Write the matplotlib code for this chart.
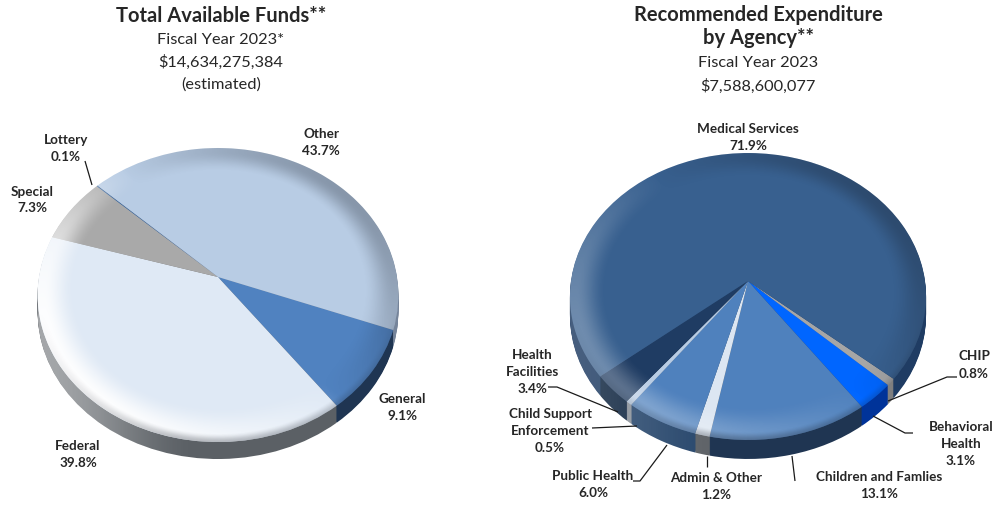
import numpy as np
import matplotlib
matplotlib.use('Agg')
import matplotlib.pyplot as plt
from matplotlib.transforms import Transform
from matplotlib.patches import Polygon

plt.rcParams['font.family'] = ['Lato', 'DejaVu Sans']

funds_names = ['General', 'Federal', 'Special', 'Lottery', 'Other']
funds_pct = [9.1, 39.8, 7.3, 0.1, 43.7]
funds_top = ['#5082c0', '#dfe9f5', '#a9a9a9', '#2f5f9a', '#b8cce4']
funds_wall = ['#1f3552', '#5b6065', '#6f6f6f', '#24466f', '#75849a']

agency_names = ['CHIP', 'Behavioral Health', 'Children and Famlies', 'Admin & Other',
                'Public Health', 'Child Support Enforcement', 'Health Facilities',
                'Medical Services']
agency_pct = [0.8, 3.1, 13.1, 1.2, 6.0, 0.5, 3.4, 71.9]
agency_top = ['#a6a6a6', '#0066ff', '#4f81bd', '#dce6f2', '#4f81bd', '#b8cce4', '#1f3c63', '#38608f']
agency_wall = ['#7f7f7f', '#003399', '#1f3552', '#5f6368', '#29486d', '#8a9199', '#0f2540', '#1f3c63']


class Tilt(Transform):
    # unit circle -> tilted disc in pixel coords, apex sits above the ellipse centre
    input_dims = 2
    output_dims = 2

    def __init__(self, cx, cy, r, s, p, drop=0):
        super().__init__()
        self.cx, self.cy, self.r, self.s, self.p, self.drop = cx, cy, r, s, p, drop

    def transform_non_affine(self, xy):
        xy = np.asarray(xy, dtype=float)
        w = 1 + self.p * xy[:, 1]
        return np.column_stack([self.cx + self.r * xy[:, 0] / w,
                                self.cy + self.drop - self.s * xy[:, 1] / w])


def smooth(a, b, v):
    t = np.clip((v - a) / (b - a), 0, 1)
    return t * t * (3 - 2 * t)


def overlay(ax, rgb, alpha, box, clip, z):
    img = np.zeros(alpha.shape + (4,))
    img[..., 0], img[..., 1], img[..., 2] = rgb
    img[..., 3] = alpha
    im = ax.imshow(img, extent=box, origin='upper', aspect='auto', interpolation='bilinear', zorder=z)
    im.set_clip_path(clip)
    return im


def disc(ax, pct, top, wall, start, cx, cy, r, s, p, depth, lit, wall_lit):
    # side wall, one pixel layer at a time
    for d in range(depth, 0, -1):
        wedges, _ = ax.pie(pct, colors=wall, startangle=start, counterclock=False, labeldistance=None)
        for w in wedges:
            w.set_transform(Tilt(cx, cy, r, s, p, d) + ax.transData)
            w.set_edgecolor('none')
            w.set_zorder(1)

    xs = np.arange(cx - r - 8, cx + r + 8)
    ys = np.arange(cy - s - 5, cy + s * 1.4 + depth)
    gx, gy = np.meshgrid(xs, ys)
    box = (xs[0] - 0.5, xs[-1] + 0.5, ys[-1] + 0.5, ys[0] - 0.5)

    # wall shade, lighter to the left
    a = np.linspace(0, 2 * np.pi, 361)
    edge = np.column_stack([np.cos(a), np.sin(a)])
    pts = Tilt(cx, cy, r, s, p).transform(edge)
    mid = pts[np.argmax(pts[:, 0]), 1]
    pts[:, 1] = np.where(pts[:, 1] > mid, pts[:, 1] + depth, pts[:, 1])
    hull = Polygon(pts, closed=True, transform=ax.transData, fc='none', ec='none')
    ax.add_patch(hull)
    shade = wall_lit * smooth(-0.1, -1.0, (gx - cx) / r)
    overlay(ax, (1, 1, 1), shade, box, hull, 1.5)

    wedges, _ = ax.pie(pct, colors=top, startangle=start, counterclock=False, labeldistance=None)
    for w in wedges:
        w.set_transform(Tilt(cx, cy, r, s, p) + ax.transData)
        w.set_edgecolor('none')
        w.set_zorder(2)

    # bevel on the top face
    Y = (cy - gy) / s
    uy = Y / (1 - p * Y)
    ww = 1 + p * uy
    ux = (gx - cx) * ww / r
    rad = np.hypot(ux, uy)
    rad_safe = np.maximum(rad, 1e-6)
    light = -(ux * 0.8 + uy * 0.6) / rad_safe
    band = smooth(0.8, 0.97, rad)
    outer = smooth(0.95, 1.0, rad)
    face = Polygon(Tilt(cx, cy, r, s, p).transform(edge), closed=True, transform=ax.transData,
                   fc='none', ec='none')
    ax.add_patch(face)
    overlay(ax, (1, 1, 1), lit * band * np.clip(light + 0.05, 0, 1), box, face, 3)
    dark = 0.3 * band * np.clip(-light, 0, 1) + 0.35 * outer * np.clip(-uy - 0.2, 0, 1) * np.clip(1.2 + ux, 0, 1)
    overlay(ax, (0.08, 0.1, 0.14), np.clip(dark, 0, 1), box, face, 3.1)


fig = plt.figure(figsize=(9.97, 5.06), dpi=100)
ax = fig.add_axes([0, 0, 1, 1])

disc(ax, funds_pct, funds_top, funds_wall, -20.5, 218, 278, 179, 144.8, 0.1225, 17, 0.95, 0.45)
disc(ax, agency_pct, agency_top, agency_wall, -40, 748, 282, 177, 141.8, 0.108, 19, 0.28, 0.18)

ax.set_aspect('auto')
ax.axis('off')

# titles
ink = '#262626'
ax.text(221, 16, 'Total Available Funds**', fontsize=14.5, fontweight='bold', color=ink, ha='center', va='center')
ax.text(221, 40, 'Fiscal Year 2023*', fontsize=11.8, color=ink, ha='center', va='center')
ax.text(221, 62, '$14,634,275,384', fontsize=11.8, color=ink, ha='center', va='center')
ax.text(221, 85, '(estimated)', fontsize=11.8, color=ink, ha='center', va='center')
ax.text(758, 15, 'Recommended Expenditure', fontsize=14.5, fontweight='bold', color=ink, ha='center', va='center')
ax.text(758, 38, 'by Agency**', fontsize=14.5, fontweight='bold', color=ink, ha='center', va='center')
ax.text(758, 63, 'Fiscal Year 2023', fontsize=11.8, color=ink, ha='center', va='center')
ax.text(758, 86, '$7,588,600,077', fontsize=11.8, color=ink, ha='center', va='center')

# slice labels
labels = [
    (321, 142, 'Other\n43.7%'), (66, 148, 'Lottery\n0.1%'), (32, 200, 'Special\n7.3%'),
    (402, 408, 'General\n9.1%'), (78, 455, 'Federal\n39.8%'),
    (748, 137, 'Medical Services\n71.9%'), (532, 372, 'Health\nFacilities\n3.4%'),
    (550, 431, 'Child Support\nEnforcement\n0.5%'), (593, 485, 'Public Health\n6.0%'),
    (716, 487, 'Admin & Other\n1.2%'), (879, 486, 'Children and Famlies\n13.1%'),
    (961, 444, 'Behavioral\nHealth\n3.1%'), (974, 365, 'CHIP\n0.8%'),
]
for x, y, s in labels:
    ax.text(x, y, s, fontsize=9.7, fontweight='bold', color=ink, ha='center', va='center',
            linespacing=1.5, zorder=6)

# leader lines
leaders = [
    [(85, 162), (92, 186)],
    [(548, 388), (557, 388), (618, 413)],
    [(592, 429), (637, 427)],
    [(633, 482), (640, 482), (667, 446)],
    [(707, 457), (707, 468)],
    [(792, 457), (795, 482)],
    [(873, 417), (905, 434), (913, 434)],
    [(888, 402), (947, 378), (957, 378)],
]
for line in leaders:
    px, py = zip(*line)
    ax.plot(px, py, color='#1a1a1a', lw=0.9, solid_capstyle='butt', zorder=5)

ax.set_xlim(0, 997)
ax.set_ylim(506, 0)

fig.savefig('out.png', dpi=100)
